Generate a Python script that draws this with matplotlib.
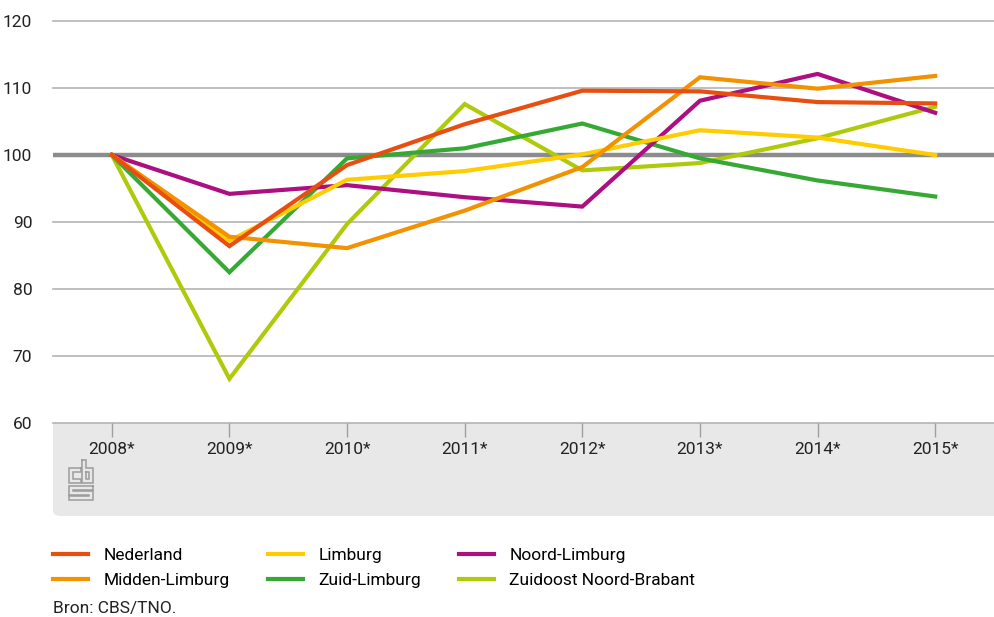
import matplotlib
matplotlib.use("Agg")
import matplotlib.pyplot as plt
from matplotlib.patches import Rectangle, FancyBboxPatch

plt.rcParams['font.family'] = ['Roboto', 'DejaVu Sans']

years = ["2008*", "2009*", "2010*", "2011*", "2012*", "2013*", "2014*", "2015*"]
nederland = [100, 86.4, 98.5, 104.6, 109.6, 109.5, 107.9, 107.7]
midden_limburg = [100, 87.8, 86.1, 91.7, 98.2, 111.6, 109.9, 111.8]
limburg = [100, 87.2, 96.3, 97.6, 100.1, 103.7, 102.6, 100.0]
noord_limburg = [100, 94.2, 95.5, 93.7, 92.3, 108.1, 112.1, 106.3]
zuid_limburg = [100, 82.5, 99.5, 101.0, 104.7, 99.5, 96.2, 93.8]
zuidoost_nb = [100, 66.6, 89.7, 107.6, 97.7, 98.8, 102.5, 107.2]
yticks = [60, 70, 80, 90, 100, 110, 120]

series = [
    ("Nederland", nederland, "#e84e0f"),
    ("Midden-Limburg", midden_limburg, "#f39200"),
    ("Limburg", limburg, "#ffcc00"),
    ("Zuid-Limburg", zuid_limburg, "#36a935"),
    ("Noord-Limburg", noord_limburg, "#ad0f80"),
    ("Zuidoost Noord-Brabant", zuidoost_nb, "#afca0b"),
]
draw_order = [5, 3, 4, 2, 1, 0]

W, H = 994, 617
fig = plt.figure(figsize=(W / 100, H / 100), dpi=100)

def fx(px):
    return px / W

def fy(py):
    return 1 - py / H

# gray box behind x labels
box = FancyBboxPatch((fx(53), fy(516)), fx(994) - fx(53), fy(423) - fy(516),
                     boxstyle="round,pad=0,rounding_size=0.008",
                     transform=fig.transFigure, facecolor="#e8e8e8",
                     edgecolor="none", zorder=-5)
fig.patches.append(box)
fig.patches.append(Rectangle((fx(53), fy(440)), fx(994) - fx(53), fy(423) - fy(440),
                             transform=fig.transFigure, facecolor="#e8e8e8",
                             edgecolor="none", zorder=-5))
fig.patches.append(Rectangle((fx(980), fy(516)), fx(994) - fx(980), fy(423) - fy(516),
                             transform=fig.transFigure, facecolor="#e8e8e8",
                             edgecolor="none", zorder=-5))

ax = fig.add_axes([fx(53), fy(423), fx(994) - fx(53), fy(21) - fy(423)])
ax.set_facecolor("none")
x = list(range(len(years)))
ax.set_xlim(-0.5, len(years) - 0.5)
ax.set_ylim(60, 120)
ax.set_yticks(yticks)
ax.set_yticklabels([str(v) for v in yticks], fontsize=12.5, color="#222222")
ax.set_xticks(x)
ax.set_xticklabels(years, fontsize=12.5, color="#222222")
ax.tick_params(axis="y", length=0, pad=15)
ax.tick_params(axis="x", length=10, width=1, color="#a0a0a0", pad=4)
for s in ax.spines.values():
    s.set_visible(False)
for v in yticks:
    if v == 100:
        ax.axhline(v, color="#8c8c8c", lw=3.2, zorder=1)
    else:
        ax.axhline(v, color="#b4b4b4", lw=1.2, zorder=1, clip_on=False)

handles = {}
for i in draw_order:
    name, vals, col = series[i]
    ln, = ax.plot(x, vals, color=col, lw=3, solid_joinstyle="miter", zorder=2 + draw_order.index(i))
    handles[name] = ln

# CBS logo approximation (outline letters c, b, s)
lax = fig.add_axes([fx(67), fy(501), fx(94) - fx(67), fy(459) - fy(501)])
lax.set_xlim(-0.5, 26.5)
lax.set_ylim(41, -1)
lax.axis("off")
lc = "#9c9c9c"
lw = 1.1
c_x = [13, 1, 1, 13, 13, 5, 5, 13, 13]
c_y = [8, 8, 23, 23, 19, 19, 12, 12, 8]
b_x = [14, 18, 18, 25, 25, 14, 14]
b_y = [0, 0, 8, 8, 23, 23, 0]
bh_x = [18, 21, 21, 18, 18]
bh_y = [12, 12, 19, 19, 12]
s_x = [25, 1, 1, 21, 21, 1, 1, 25, 25, 5, 5, 25, 25]
s_y = [26, 26, 34.5, 34.5, 36, 36, 40, 40, 31, 31, 29.5, 29.5, 26]
for px_, py_ in [(c_x, c_y), (b_x, b_y), (bh_x, bh_y), (s_x, s_y)]:
    lax.plot(px_, py_, color=lc, lw=lw, solid_joinstyle="miter")

legend_order = ["Nederland", "Midden-Limburg", "Limburg", "Zuid-Limburg",
                "Noord-Limburg", "Zuidoost Noord-Brabant"]
leg = fig.legend([handles[n] for n in legend_order], legend_order, ncol=3,
                 loc="upper left", bbox_to_anchor=(fx(53), fy(548)),
                 frameon=False, fontsize=12.5, handlelength=2.0, handletextpad=0.9,
                 columnspacing=2.2, labelspacing=0.55, borderaxespad=0, borderpad=0)

fig.text(fx(53), fy(608), "Bron: CBS/TNO.", fontsize=12.5, color="#222222", va="center")

fig.savefig("out.png", dpi=100)
